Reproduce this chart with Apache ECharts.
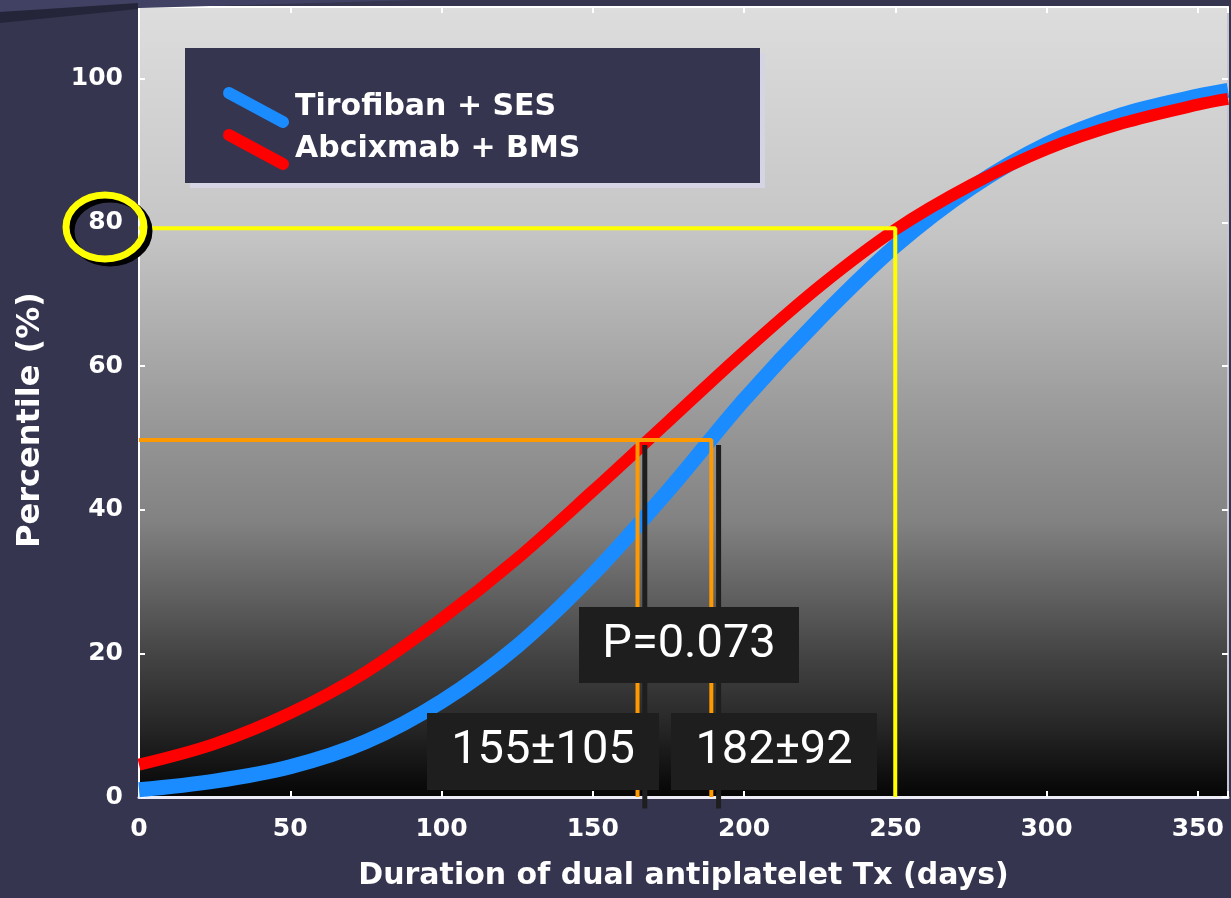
<!DOCTYPE html>
<html>
<head>
<meta charset="utf-8">
<script src="https://cdn.jsdelivr.net/npm/echarts@6/dist/echarts.min.js"></script>
<style>
  html, body { margin: 0; padding: 0; background: #353550; }
  #main { width: 1231px; height: 898px; }
</style>
</head>
<body>
<div id="main"></div>
<script>
// cumulative percentile curves
var days = [0, 25, 50, 75, 100, 125, 150, 175, 200, 225, 250, 275, 300, 325, 350, 360];
var tirofibanSes = [1, 2.2, 4.2, 7.7, 13.3, 21, 31, 42.7, 55.3, 66.6, 76.7, 84.8, 90.9, 95, 97.6, 98.4];
var abciximabBms = [4.5, 7.4, 11.7, 17.4, 24.8, 33.2, 42.6, 52.3, 62, 71.1, 79, 85.2, 90.2, 93.8, 96.4, 97.2];

var xTicks = [0, 50, 100, 150, 200, 250, 300, 350];
var yTicks = [0, 20, 40, 60, 80, 100];

// guide lines (80th percentile, medians)
var yellowGuide = [[0, 79.2], [250, 79.2], [250, 0]];
var orangeGuide = [[0, 49.7], [189.2, 49.7], [189.2, 0]];
var orangeMedian = [[164.8, 49.7], [164.8, 0]];
var shadowA = [[167.2, 49], [167.2, -1.6]];
var shadowB = [[191.6, 49], [191.6, -1.6]];

var seriesNames = ['Tirofiban + SES', 'Abcixmab + BMS'];
var boxLabels = ['P=0.073', '155\u00b1105', '182\u00b192'];

function pairs(xs, ys) {
    return xs.map(function (x, i) { return [x, ys[i]]; });
}

var slashIcon = 'path://M8.84,0.71 L62.84,29.71 A6,6 0 0 1 57.16,40.29 L3.16,11.29 A6,6 0 0 1 8.84,0.71 Z';
var font = '"DejaVu Sans", Verdana, sans-serif';

var myChart = echarts.init(document.getElementById('main'));

function guide(data, color, width, z) {
    return {
        type: 'line',
        data: data,
        showSymbol: false,
        silent: true,
        clip: false,
        z: z,
        lineStyle: { color: color, width: width },
        animation: false
    };
}

function textBox(x, y, w, h, text) {
    return {
        type: 'group',
        z: 60,
        children: [
            { type: 'rect', z: 60, shape: { x: x, y: y, width: w, height: h }, style: { fill: '#1e1e1e' } },
            {
                type: 'text', z: 61, x: x + w / 2, y: y + h / 2,
                style: {
                    text: text, fill: '#ffffff', font: '47px Roboto, sans-serif',
                    align: 'center', verticalAlign: 'middle',
                    textShadowColor: '#000', textShadowOffsetX: 2, textShadowOffsetY: 2
                }
            }
        ]
    };
}

var option = {
    backgroundColor: '#353550',
    animation: false,
    grid: {
        left: 139, right: 2, top: 7, bottom: 101,
        show: true, borderWidth: 0,
        backgroundColor: {
            type: 'linear', x: 0, y: 0, x2: 0, y2: 1,
            colorStops: [
                { offset: 0, color: '#dddddd' },
                { offset: 0.28, color: '#c6c6c6' },
                { offset: 0.52, color: '#999999' },
                { offset: 0.65, color: '#828282' },
                { offset: 0.75, color: '#5e5e5e' },
                { offset: 0.82, color: '#444444' },
                { offset: 0.9, color: '#2a2a2a' },
                { offset: 1, color: '#050505' }
            ]
        }
    },
    legend: {
        data: seriesNames.map(function (n) { return { name: n, icon: slashIcon }; }),
        orient: 'vertical',
        left: 218, top: 82,
        itemWidth: 68, itemHeight: 41, itemGap: 1,
        z: 20,
        selectedMode: false,
        textStyle: { color: '#ffffff', fontFamily: font, fontWeight: 'bold', fontSize: 30 }
    },
    xAxis: [{
        type: 'value', min: 0, max: 360, interval: 50,
        name: 'Duration of dual antiplatelet Tx (days)',
        nameLocation: 'middle', nameGap: 64,
        nameTextStyle: { color: '#ffffff', fontFamily: font, fontWeight: 'bold', fontSize: 30 },
        splitLine: { show: false },
        axisLine: { onZero: false, lineStyle: { color: '#ececf6', width: 3 } },
        axisTick: { inside: true, length: 6, lineStyle: { color: '#ffffff', width: 2 } },
        axisLabel: {
            color: '#ffffff', fontFamily: font, fontWeight: 'bold', fontSize: 25, margin: 20,
            formatter: function (v) { return xTicks.indexOf(v) >= 0 ? String(v) : ''; }
        }
    }, {
        type: 'value', min: 0, max: 360, interval: 50, position: 'top',
        splitLine: { show: false },
        axisLine: { onZero: false, lineStyle: { color: '#ffffff', width: 2 } },
        axisTick: { inside: true, length: 6, lineStyle: { color: '#ffffff', width: 2 } },
        axisLabel: { show: false }
    }],
    yAxis: [{
        type: 'value', min: 0, max: 110, interval: 20,
        name: 'Percentile (%)',
        nameLocation: 'middle', nameGap: 92, nameRotate: 90,
        nameTextStyle: { color: '#ffffff', fontFamily: font, fontWeight: 'bold', fontSize: 32, padding: [0, 36, 0, 0] },
        splitLine: { show: false },
        axisLine: { show: true, onZero: false, lineStyle: { color: '#ffffff', width: 2 } },
        axisTick: { show: true, inside: true, length: 6, lineStyle: { color: '#ffffff', width: 2 } },
        axisLabel: {
            color: '#ffffff', fontFamily: font, fontWeight: 'bold', fontSize: 25, margin: 16,
            formatter: function (v) { return yTicks.indexOf(v) >= 0 ? String(v) : ''; }
        }
    }, {
        type: 'value', min: 0, max: 110, interval: 20, position: 'right',
        splitLine: { show: false },
        axisLine: { show: true, onZero: false, lineStyle: { color: '#c4c4d4', width: 2 } },
        axisTick: { show: true, inside: true, length: 6, lineStyle: { color: '#ffffff', width: 2 } },
        axisLabel: { show: false }
    }],
    series: [
        {
            name: seriesNames[0], type: 'line', smooth: 0.35,
            data: pairs(days, tirofibanSes), showSymbol: false, z: 2,
            itemStyle: { color: '#1a8cff' },
            lineStyle: { color: '#1a8cff', width: 15 }
        },
        {
            name: seriesNames[1], type: 'line', smooth: 0.35,
            data: pairs(days, abciximabBms), showSymbol: false, z: 3,
            itemStyle: { color: '#ff0000' },
            lineStyle: { color: '#ff0000', width: 12 }
        },
        guide(shadowA, '#1e1e1e', 5, 4),
        guide(shadowB, '#1e1e1e', 5, 4),
        guide(yellowGuide, '#ffff00', 4, 5),
        guide(orangeGuide, '#ff9900', 4, 5),
        guide(orangeMedian, '#ff9900', 4, 5)
    ],
    graphic: [
        // slide decoration top-left
        { type: 'polygon', z: 1, shape: { points: [[0, 0], [420, 0], [0, 12]] }, style: { fill: '#414163' } },
        { type: 'polygon', z: 1, shape: { points: [[0, 12], [138, 3], [138, 9], [0, 23]] }, style: { fill: '#25253a' } },
        // legend box
        {
            type: 'rect', z: 8, shape: { x: 185, y: 48, width: 575, height: 135 },
            style: { fill: '#353550', shadowColor: '#d4d4e4', shadowOffsetX: 5, shadowOffsetY: 5, shadowBlur: 0 }
        },
        // highlight ring round the 80 label
        {
            type: 'ellipse', z: 70, shape: { cx: 105, cy: 227, rx: 39, ry: 32 },
            style: { fill: 'none', stroke: '#ffff00', lineWidth: 7, shadowColor: '#000000', shadowOffsetX: 5, shadowOffsetY: 4, shadowBlur: 0 }
        },
        textBox(579, 607, 220, 76, boxLabels[0]),
        textBox(427, 713, 232, 77, boxLabels[1]),
        textBox(671, 713, 206, 77, boxLabels[2])
    ]
};
myChart.setOption(option);
</script>
</body>
</html>
